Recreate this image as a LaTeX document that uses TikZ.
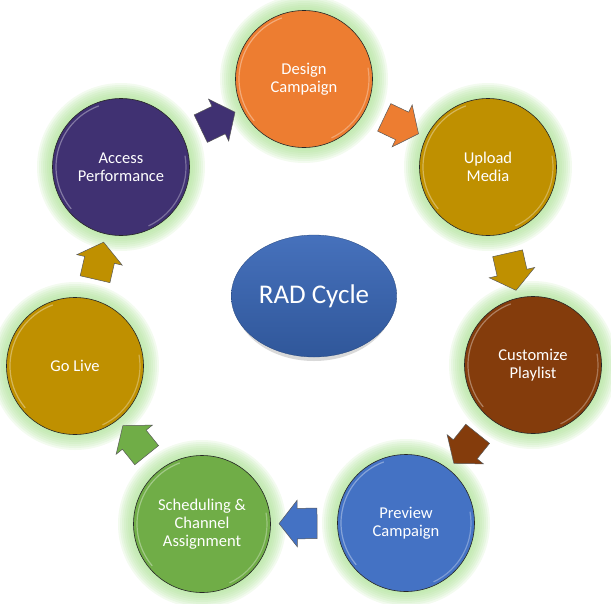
\documentclass[tikz,border=0pt]{standalone}
\usepackage{fontspec}
\setmainfont{Carlito}
\usetikzlibrary{calc,shapes.arrows,shapes.geometric}
\definecolor{designcol}{HTML}{ED7D31}
\definecolor{goldcol}{HTML}{BF9000}
\definecolor{browncol}{HTML}{843C0C}
\definecolor{bluecol}{HTML}{4472C4}
\definecolor{greencol}{HTML}{70AD47}
\definecolor{purplecol}{HTML}{403172}
\definecolor{glowcol}{HTML}{A8E090}
\definecolor{radtop}{HTML}{4671BC}
\definecolor{radbot}{HTML}{30579A}
\def\glow(#1){\foreach \k in {1,...,8} \fill[glowcol, opacity=0.14] (#1) circle[radius=68pt+2pt*\k];}
\def\shine(#1){\draw[white, opacity=0.35, line width=1.2pt] ($(#1)+(110:65pt)$) arc[start angle=110, end angle=220, radius=65pt];
	\draw[white, opacity=0.3, line width=1.2pt] ($(#1)+(-65:65pt)$) arc[start angle=-65, end angle=10, radius=65pt];}
\tikzset{
	stage/.style={circle, draw=black!85, line width=0.6pt, minimum size=137pt, inner sep=0pt, align=center, text=white, font=\fontsize{16.5}{18}\selectfont},
	flow/.style={single arrow, draw=black!65, line width=0.5pt, minimum height=38pt, minimum width=46pt, single arrow head extend=8pt, single arrow tip angle=104, inner xsep=0pt, inner ysep=15pt, sloped, allow upside down, midway}
}

\begin{document}
\begin{tikzpicture}[x=1pt, y=-1pt]
	%%%%% START %%%%%
	\useasboundingbox (0, 0) rectangle (611, 603);
	
	\coordinate (pD) at (304, 79);
	\coordinate (pU) at (488, 167);
	\coordinate (pC) at (533, 365);
	\coordinate (pP) at (406, 523);
	\coordinate (pS) at (202, 524);
	\coordinate (pG) at (75, 366);
	\coordinate (pA) at (121, 167);
	
	\foreach \p in {pD, pU, pC, pP, pS, pG, pA} {\glow(\p)}
	
	\node[stage, fill=designcol] (design) at (pD) {Design\\Campaign};
	\node[stage, fill=goldcol] (upload) at (pU) {Upload\\Media};
	\node[stage, fill=browncol] (custom) at (pC) {Customize\\Playlist};
	\node[stage, fill=bluecol] (preview) at (pP) {Preview\\Campaign};
	\node[stage, fill=greencol] (sched) at (pS) {Scheduling \&\\Channel\\Assignment};
	\node[stage, fill=goldcol] (golive) at (pG) {Go Live};
	\node[stage, fill=purplecol] (access) at (pA) {Access\\Performance};
	
	\foreach \p in {pD, pU, pC, pP, pS, pG, pA} {\shine(\p)}
	
	% centre
	\fill[black, opacity=0.15] (314, 300) ellipse[x radius=80pt, y radius=61pt];
	\node[ellipse, top color=radtop, bottom color=radbot, draw=radbot!80!black, line width=0.3pt, minimum width=158pt, minimum height=122pt, text=white, font=\fontsize{27}{32}\selectfont] (rad) at (314, 296) {RAD Cycle};
	
	% block arrows
	\path (access) -- node[flow, fill=purplecol] (a1) {} (design);
	\path (design) -- node[flow, fill=designcol] (a2) {} (upload);
	\path (upload) -- node[flow, fill=goldcol] (a3) {} (custom);
	\path (custom) -- node[flow, fill=browncol] (a4) {} (preview);
	\path (preview) -- node[flow, fill=bluecol] (a5) {} (sched);
	\path (sched) -- node[flow, fill=greencol] (a6) {} (golive);
	\path (golive) -- node[flow, fill=goldcol] (a7) {} (access);
	%%%%% END %%%%%
\end{tikzpicture}
\end{document}
